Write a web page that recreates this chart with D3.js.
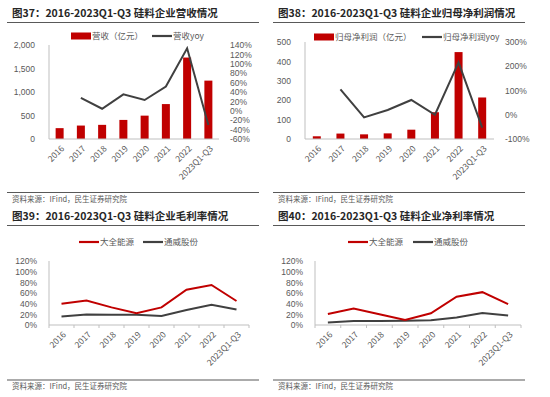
<!DOCTYPE html>
<meta charset="utf-8">
<head>
	<script src="https://d3js.org/d3.v7.min.js"></script>
	<style>
		body { margin: 0; background: #fff; }
		svg { display: block; font-family: "Noto Sans CJK SC", "Noto Sans", sans-serif; }
		.tick text, .lbl { fill: #595959; font-size: 8.5px; }
		.title { fill: #262626; font-size: 10.5px; font-weight: bold; }
		.note { fill: #595959; font-size: 7.5px; }
	</style>
</head>
<body>
<div id="chart"></div>
<script>
	var years = ["2016", "2017", "2018", "2019", "2020", "2021", "2022", "2023Q1-Q3"];

	// 图37
	var revenue = [231, 286, 301, 406, 497, 743, 1733, 1242];
	var revenueYoy = [null, 27.6, 4.4, 35, 23, 51.6, 133, -30];
	// 图38
	var profit = [14, 28, 24, 29, 48, 138, 448, 214];
	var profitYoy = [null, 105, -10.7, 19.6, 61, 0, 216, -53];
	// 图39 毛利率
	var grossDaqo = [40, 46, 33, 22, 33, 66, 75, 45];
	var grossTongwei = [16, 19.6, 19, 19, 17, 28, 38, 29];
	// 图40 净利率
	var netDaqo = [20.7, 31, 20, 9.5, 22, 53, 61.6, 39];
	var netTongwei = [4.5, 7.5, 7.5, 8, 9, 14, 22.6, 18];

	var titles = [
		"图37：2016-2023Q1-Q3 硅料企业营收情况",
		"图38：2016-2023Q1-Q3 硅料企业归母净利润情况",
		"图39：2016-2023Q1-Q3 硅料企业毛利率情况",
		"图40：2016-2023Q1-Q3 硅料企业净利率情况"
	];
	var source = "资料来源：IFind，民生证券研究院";

	var red = "#C00000", dark = "#404040", axisColor = "#BFBFBF";

	var svg = d3.select("#chart").append("svg")
		.attr("width", 550)
		.attr("height", 397);

	function frame(x0, x1, titleY, noteY, title) {
		svg.append("text").attr("class", "title")
			.attr("x", x0 + 5).attr("y", titleY).text(title);
		svg.append("line")
			.attr("x1", x0).attr("x2", x1)
			.attr("y1", titleY + 5.5).attr("y2", titleY + 5.5)
			.style("stroke", "#595959").style("stroke-width", 1.2);
		svg.append("line")
			.attr("x1", x0).attr("x2", x1)
			.attr("y1", noteY).attr("y2", noteY)
			.style("stroke", "#595959").style("stroke-width", 1.2);
		svg.append("text").attr("class", "note")
			.attr("x", x0 + 5).attr("y", noteY + 9).text(source);
	}

	function xLabels(g, x, y0) {
		g.selectAll(".xl")
			.data(years)
			.enter().append("text")
			.attr("class", "lbl")
			.style("text-anchor", "end")
			.attr("dy", "0.35em")
			.attr("transform", function(d) {
				return "translate(" + (x(d) + x.bandwidth() / 2 + 3) + "," + (y0 + 8) + ")rotate(-45)";
			})
			.text(function(d) { return d; });
	}

	function styleAxis(a) {
		a.select(".domain").remove();
		a.selectAll(".tick line").remove();
	}

	function legendItem(x, y, kind, color, label) {
		if (kind == "bar") {
			svg.append("rect").attr("x", x).attr("y", y - 3.5).attr("width", 20).attr("height", 7).style("fill", color);
		} else {
			svg.append("line").attr("x1", x).attr("x2", x + 20).attr("y1", y).attr("y2", y)
				.style("stroke", color).style("stroke-width", 2.2);
		}
		svg.append("text").attr("class", "lbl").attr("x", x + 21).attr("y", y).attr("dy", "0.35em").text(label);
	}

	function barChart(opt) {
		var x = d3.scaleBand().domain(years).range([opt.left, opt.right]);
		var yL = d3.scaleLinear().domain(opt.leftDomain).range([opt.bottom, opt.top]);
		var yR = d3.scaleLinear().domain(opt.rightDomain).range([opt.bottom, opt.top]);
		var g = svg.append("g");

		var la = g.append("g")
			.attr("transform", "translate(" + (opt.left - 11) + ",0)")
			.call(d3.axisLeft(yL).tickValues(d3.range(opt.leftDomain[0], opt.leftDomain[1] + 1, opt.leftStep))
				.tickFormat(d3.format(",")).tickSize(0));
		styleAxis(la);

		var ra = g.append("g")
			.attr("transform", "translate(" + (opt.right + 8) + ",0)")
			.call(d3.axisRight(yR).tickValues(d3.range(opt.rightDomain[0], opt.rightDomain[1] + 1, opt.rightStep))
				.tickFormat(function(d) { return d + "%"; }).tickSize(0));
		styleAxis(ra);

		g.selectAll(".bar")
			.data(opt.bars)
			.enter().append("rect")
			.attr("x", function(d, i) { return x(years[i]) + x.bandwidth() / 2 - 4; })
			.attr("width", 8)
			.attr("y", function(d) { return yL(d); })
			.attr("height", function(d) { return yL(0) - yL(d); })
			.style("fill", red);

		g.append("line").attr("x1", opt.left).attr("x2", opt.left).attr("y1", opt.top).attr("y2", opt.bottom)
			.style("stroke", axisColor);
		g.append("line").attr("x1", opt.left).attr("x2", opt.right).attr("y1", opt.bottom).attr("y2", opt.bottom)
			.style("stroke", axisColor);

		var line = d3.line()
			.defined(function(d) { return d != null; })
			.x(function(d, i) { return x(years[i]) + x.bandwidth() / 2; })
			.y(function(d) { return yR(d); });
		g.append("path").datum(opt.yoy)
			.attr("d", line)
			.style("fill", "none").style("stroke", dark).style("stroke-width", 2);

		xLabels(g, x, opt.bottom);
	}

	function lineChart(opt) {
		var x = d3.scaleBand().domain(years).range([opt.left, opt.right]);
		var y = d3.scaleLinear().domain([0, 120]).range([opt.bottom, opt.top]);
		var g = svg.append("g");

		var la = g.append("g")
			.attr("transform", "translate(" + (opt.left - 9) + ",0)")
			.call(d3.axisLeft(y).tickValues(d3.range(0, 121, 20))
				.tickFormat(function(d) { return d + "%"; }).tickSize(0));
		styleAxis(la);

		g.append("line").attr("x1", opt.left).attr("x2", opt.left).attr("y1", opt.top).attr("y2", opt.bottom)
			.style("stroke", axisColor);
		g.append("line").attr("x1", opt.left).attr("x2", opt.right).attr("y1", opt.bottom).attr("y2", opt.bottom)
			.style("stroke", axisColor);
		g.selectAll(".xt")
			.data(years.concat(["end"]))
			.enter().append("line")
			.attr("x1", function(d, i) { return opt.left + i * x.step(); })
			.attr("x2", function(d, i) { return opt.left + i * x.step(); })
			.attr("y1", opt.bottom).attr("y2", opt.bottom + 3)
			.style("stroke", axisColor);

		var line = d3.line()
			.x(function(d, i) { return x(years[i]) + x.bandwidth() / 2; })
			.y(function(d) { return y(d); });
		g.append("path").datum(opt.gray).attr("d", line)
			.style("fill", "none").style("stroke", dark).style("stroke-width", 2);
		g.append("path").datum(opt.red).attr("d", line)
			.style("fill", "none").style("stroke", red).style("stroke-width", 2);

		xLabels(g, x, opt.bottom);
	}

	frame(7, 259, 17, 192.5, titles[0]);
	frame(273, 525, 17, 192.5, titles[1]);
	frame(7, 259, 220, 380, titles[2]);
	frame(273, 525, 220, 380, titles[3]);

	barChart({ left: 49, right: 219, top: 45, bottom: 139,
		leftDomain: [0, 2000], leftStep: 500, rightDomain: [-60, 140], rightStep: 20,
		bars: revenue, yoy: revenueYoy });
	legendItem(71, 36, "bar", red, "营收（亿元）");
	legendItem(152, 36, "line", dark, "营收yoy");

	barChart({ left: 305, right: 494, top: 42, bottom: 139,
		leftDomain: [0, 500], leftStep: 100, rightDomain: [-100, 300], rightStep: 100,
		bars: profit, yoy: profitYoy });
	legendItem(314, 37, "bar", red, "归母净利润（亿元）");
	legendItem(422, 37, "line", dark, "归母净利润yoy");

	lineChart({ left: 49, right: 249, top: 261, bottom: 325, red: grossDaqo, gray: grossTongwei });
	legendItem(79, 242, "line", red, "大全能源");
	legendItem(143, 242, "line", dark, "通威股份");

	lineChart({ left: 315, right: 521, top: 261, bottom: 325, red: netDaqo, gray: netTongwei });
	legendItem(348, 242, "line", red, "大全能源");
	legendItem(413, 242, "line", dark, "通威股份");
</script>
</body>
